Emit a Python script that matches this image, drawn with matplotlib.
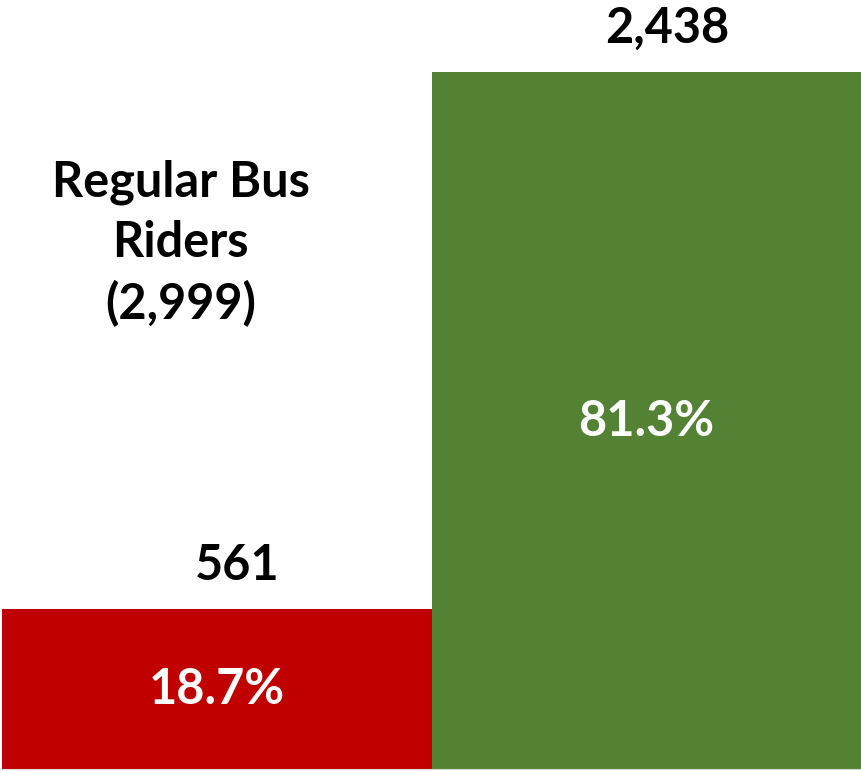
import matplotlib.pyplot as plt

# rider counts and their shares of regular bus riders
categories = ['No', 'Yes']
counts = [561, 2438]
shares = [18.7, 81.3]
total = 2999
colors = ['#C00000', '#548235']

fig = plt.figure(figsize=(8.61, 7.71), dpi=100)
ax = fig.add_axes([2 / 861, 1 / 771, 859 / 861, 770 / 771])

x = list(range(len(categories)))
ax.bar(x, counts, width=1.0, align='edge', color=colors, linewidth=0)

font = dict(family=['Lato', 'DejaVu Sans'], fontweight='bold')

for i, (c, s) in enumerate(zip(counts, shares)):
    ax.annotate(f'{c:,}', xy=(i + 0.5, c), xytext=(15, 21),
                textcoords='offset points', ha='center', va='baseline',
                fontsize=35, color='black', **font)
    ax.text(i + 0.5, c / 2, f'{s}%', ha='center', va='center',
            fontsize=35, color='white', **font)

ax.text(0.208, 0.684, f'Regular Bus\nRiders\n({total:,})', transform=ax.transAxes,
        ha='center', va='center', fontsize=35, linespacing=1.4,
        color='black', **font)

ax.set_xlim(0, 2)
ax.set_ylim(0, 2438 * 770 / 698)
ax.axhline(0, color='#D9D9D9', linewidth=1.5)
ax.axis('off')

fig.savefig('out.png', dpi=100)
